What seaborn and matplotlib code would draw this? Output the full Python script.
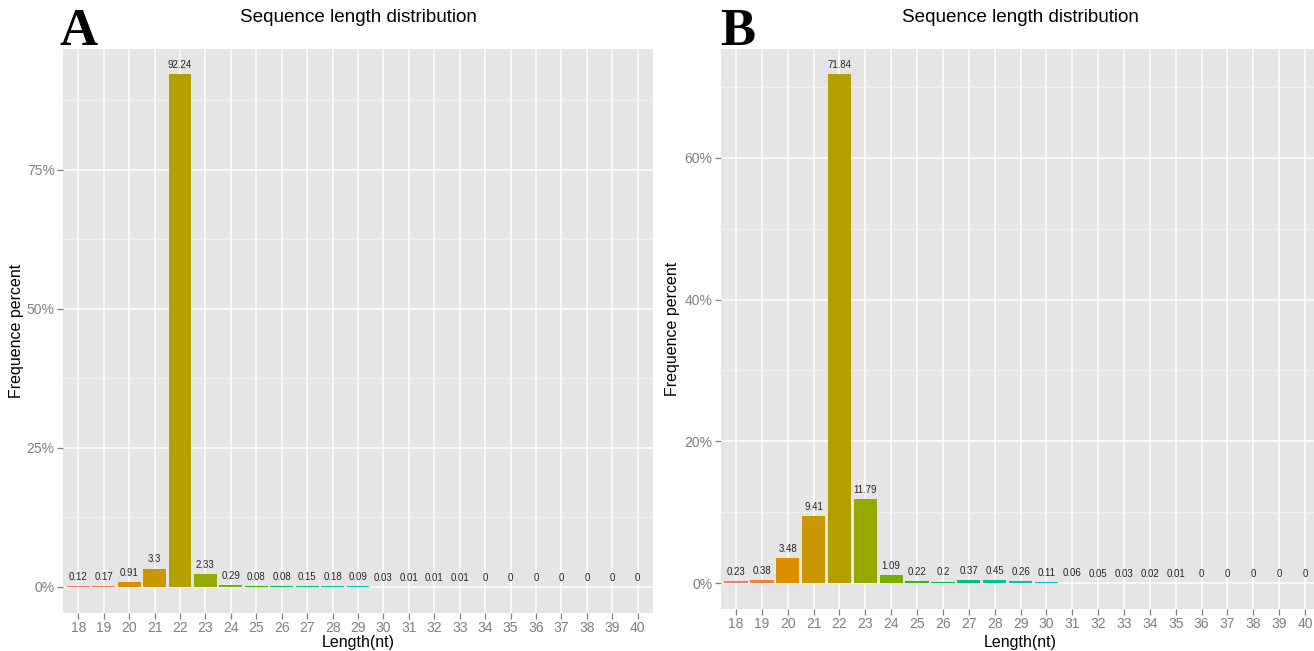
import numpy as np
import pandas as pd
import matplotlib
matplotlib.use("Agg")
import matplotlib.pyplot as plt
import seaborn as sns
from matplotlib.ticker import MultipleLocator, FuncFormatter

# ---------------- data ----------------
lengths = [str(i) for i in range(18, 41)]
freq_a = [0.12, 0.17, 0.91, 3.3, 92.24, 2.33, 0.29, 0.08, 0.08, 0.15, 0.18, 0.09,
          0.03, 0.01, 0.01, 0.01, 0, 0, 0, 0, 0, 0, 0]
freq_b = [0.23, 0.38, 3.48, 9.41, 71.84, 11.79, 1.09, 0.22, 0.2, 0.37, 0.45, 0.26,
          0.11, 0.06, 0.05, 0.03, 0.02, 0.01, 0, 0, 0, 0, 0]
yticks_a = [0, 25, 50, 75]
yticks_b = [0, 20, 40, 60]
title = "Sequence length distribution"
xlabel = "Length(nt)"
ylabel = "Frequence percent"


# ggplot2 default hue palette (HCL, c=100, l=65)
def hcl_to_hex(h, c=100.0, l=65.0):
    Xn, Yn, Zn = 95.047, 100.0, 108.883
    hr = np.deg2rad(h)
    U, V = c * np.cos(hr), c * np.sin(hr)
    Y = Yn * (((l + 16) / 116) ** 3 if l > 8 else l / 903.3)
    den = Xn + 15 * Yn + 3 * Zn
    un, vn = 4 * Xn / den, 9 * Yn / den
    up = U / (13 * l) + un
    vp = V / (13 * l) + vn
    X = 9.0 * Y * up / (4 * vp)
    Z = -X / 3 - 5 * Y + 3 * Y / vp
    X, Y, Z = X / 100, Y / 100, Z / 100
    r = 3.240479 * X - 1.537150 * Y - 0.498535 * Z
    g = -0.969256 * X + 1.875992 * Y + 0.041556 * Z
    b = 0.055648 * X - 0.204043 * Y + 1.057311 * Z

    def gam(t):
        t = 1.055 * t ** (1 / 2.4) - 0.055 if t > 0.0031308 else 12.92 * t
        return min(max(t, 0), 1)

    return matplotlib.colors.to_hex((gam(r), gam(g), gam(b)))


n = len(lengths)
hues = [15 + i * 360.0 / n for i in range(n)]
palette = [hcl_to_hex(h) for h in hues]

sns.set_theme(style="darkgrid")
plt.rcParams["font.family"] = ["Liberation Sans", "DejaVu Sans"]

W, H = 1314, 651
fig = plt.figure(figsize=(W / 100, H / 100), dpi=100)

grey_txt = "#7F7F7F"


def panel(left_px, right_px, top_px, bottom_px, values, yticks, minor, letter, letter_x, ylab_x):
    ax = fig.add_axes([left_px / W, 1 - bottom_px / H, (right_px - left_px) / W, (bottom_px - top_px) / H])
    df = pd.DataFrame({"len": lengths, "val": values})
    sns.barplot(data=df, x="len", y="val", hue="len", palette=palette, legend=False,
                width=0.9, saturation=1, ax=ax, edgecolor="none", linewidth=0, zorder=3)
    ax.set_facecolor("#E5E5E5")
    for s in ax.spines.values():
        s.set_visible(False)
    top = max(values)
    ax.set_ylim(-0.05 * top, 1.05 * top)
    ax.set_xlim(-0.6, n - 0.4)
    ax.set_yticks(yticks)
    ax.yaxis.set_minor_locator(MultipleLocator(minor))
    ax.yaxis.set_major_formatter(FuncFormatter(lambda v, _: f"{v:g}%"))
    ax.grid(which="major", color="white", linewidth=1.1, zorder=0)
    ax.grid(which="minor", axis="y", color="#F2F2F2", linewidth=0.6, zorder=0)
    ax.set_axisbelow(True)
    ax.tick_params(which="major", length=4, width=0.9, color=grey_txt, labelcolor=grey_txt,
                   labelsize=10, pad=2, bottom=True, left=True)
    ax.tick_params(which="minor", length=0)
    ax.set_xlabel("")
    ax.set_ylabel("")
    for i, v in enumerate(values):
        ax.annotate(f"{v:g}", (i, v), xytext=(0, 3), textcoords="offset points",
                    ha="center", va="bottom", fontsize=6.9, color="#222222")
    fig.text(((left_px + right_px) / 2) / W, 1 - 18 / H, title, ha="center", va="center",
             fontsize=13.6, color="black")
    fig.text(((left_px + right_px) / 2) / W, 1 - 642 / H, xlabel, ha="center", va="center",
             fontsize=11.5, color="black")
    fig.text(ylab_x / W, 1 - ((top_px + bottom_px) / 2) / H, ylabel, ha="center", va="center",
             rotation=90, fontsize=11.5, color="black")
    fig.text(letter_x / W, 1 - 45 / H, letter, ha="left", va="baseline", fontsize=38,
             fontweight="bold", family="Liberation Serif", color="black")
    return ax


panel(63, 653, 48.5, 612.5, freq_a, yticks_a, 12.5, "A", 60, 17)
panel(720.5, 1320.5, 48.5, 608.5, freq_b, yticks_b, 10, "B", 720, 673)

fig.savefig("out.png", dpi=100, facecolor="white")
